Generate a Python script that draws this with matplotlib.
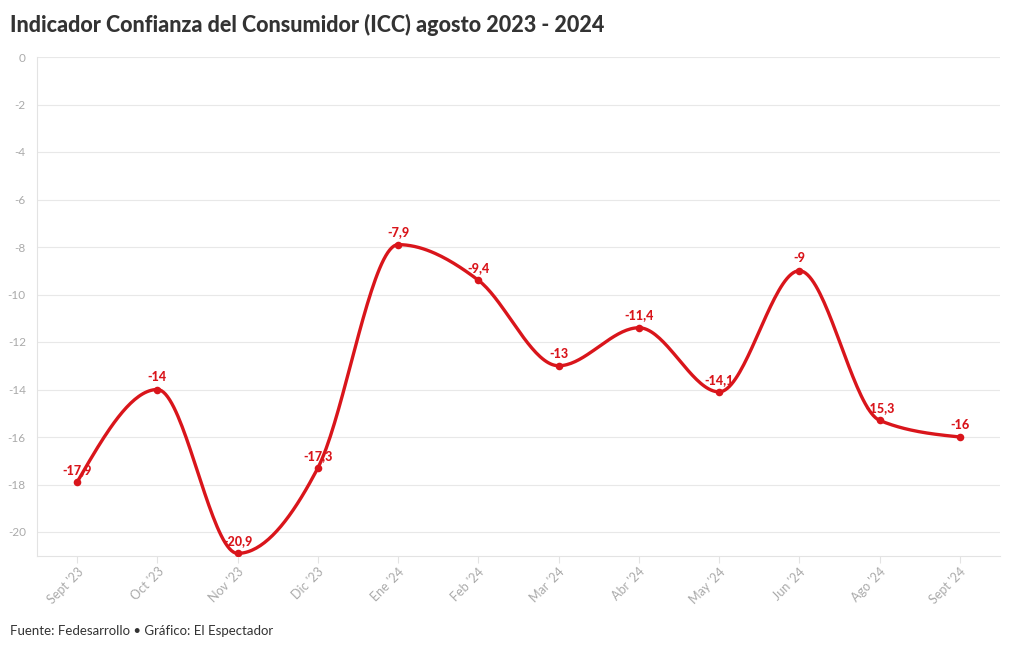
import numpy as np
import matplotlib
matplotlib.use("Agg")
import matplotlib.pyplot as plt

categories = ["Sept '23", "Oct '23", "Nov '23", "Dic '23", "Ene '24", "Feb '24",
              "Mar '24", "Abr '24", "May '24", "Jun '24", "Ago '24", "Sept '24"]
values = [-17.9, -14, -20.9, -17.3, -7.9, -9.4, -13, -11.4, -14.1, -9, -15.3, -16]
labels = ["-17,9", "-14", "-20,9", "-17,3", "-7,9", "-9,4", "-13", "-11,4",
          "-14,1", "-9", "-15,3", "-16"]
yticks = [0, -2, -4, -6, -8, -10, -12, -14, -16, -18, -20]

plt.rcParams['font.family'] = ['Lato', 'DejaVu Sans']

RED = '#d9151b'

def monotone_curve(x, y, n=40):
    x = np.asarray(x, float); y = np.asarray(y, float)
    m = len(x)
    h = np.diff(x); s = np.diff(y) / h
    t = np.zeros(m)
    for i in range(1, m - 1):
        h0, h1 = h[i - 1], h[i]
        s0, s1 = s[i - 1], s[i]
        p = (s0 * h1 + s1 * h0) / (h0 + h1)
        t[i] = (np.sign(s0) + np.sign(s1)) * min(abs(s0), abs(s1), 0.5 * abs(p))
    t[0] = (3 * s[0] - t[1]) / 2
    t[-1] = (3 * s[-1] - t[-2]) / 2
    xs, ys = [], []
    for i in range(m - 1):
        u = np.linspace(0, 1, n)
        dx = h[i]
        h00 = 2*u**3 - 3*u**2 + 1
        h10 = u**3 - 2*u**2 + u
        h01 = -2*u**3 + 3*u**2
        h11 = u**3 - u**2
        xs.append(x[i] + u * dx)
        ys.append(h00*y[i] + h10*dx*t[i] + h01*y[i+1] + h11*dx*t[i+1])
    return np.concatenate(xs), np.concatenate(ys)

fig = plt.figure(figsize=(10.2, 6.5), dpi=100)
ax = fig.add_axes([37/1020, (650-555.75)/650, (1000-37)/1020, (555.75-57)/650])

xpos = np.arange(len(categories))
cx, cy = monotone_curve(xpos, values)
ax.plot(cx, cy, color=RED, lw=2.4, solid_capstyle='round', zorder=3)
ax.scatter(xpos, values, s=30, color=RED, zorder=4, linewidths=0)
for xi, v, lab in zip(xpos, values, labels):
    ax.annotate(lab, (xi, v), xytext=(0, 4.5), textcoords='offset points',
                ha='center', va='bottom', color=RED, fontsize=9, fontweight='black', zorder=5)

ax.set_xlim(-0.5, 11.5)
ax.set_ylim(-21, 0)
ax.set_yticks(yticks)
ax.set_yticklabels([str(v) for v in yticks])
ax.set_xticks(xpos)
ax.set_xticklabels(categories, rotation=45, ha='right', rotation_mode='anchor')
ax.grid(axis='y', color='#e8e8e8', lw=0.8)
ax.set_axisbelow(True)
for sp in ['top', 'right']:
    ax.spines[sp].set_visible(False)
for sp in ['left', 'bottom']:
    ax.spines[sp].set_color('#e3e3e3')
    ax.spines[sp].set_linewidth(0.8)
ax.tick_params(axis='y', length=0, colors='#aaaaaa', labelsize=8.5, pad=8)
ax.tick_params(axis='x', length=5, color='#e3e3e3', colors='#aaaaaa', labelsize=9, pad=2)

fig.text(10/1020, 1 - 25/650, "Indicador Confianza del Consumidor (ICC) agosto 2023 - 2024",
         fontsize=15.5, fontweight='black', color='#333333', va='center', ha='left')
fig.text(10/1020, 1 - 631/650, "Fuente: Fedesarrollo \u2022 Gráfico: El Espectador",
         fontsize=9.5, color='#333333', va='center', ha='left')

fig.savefig("out.png", dpi=100, facecolor='white')
